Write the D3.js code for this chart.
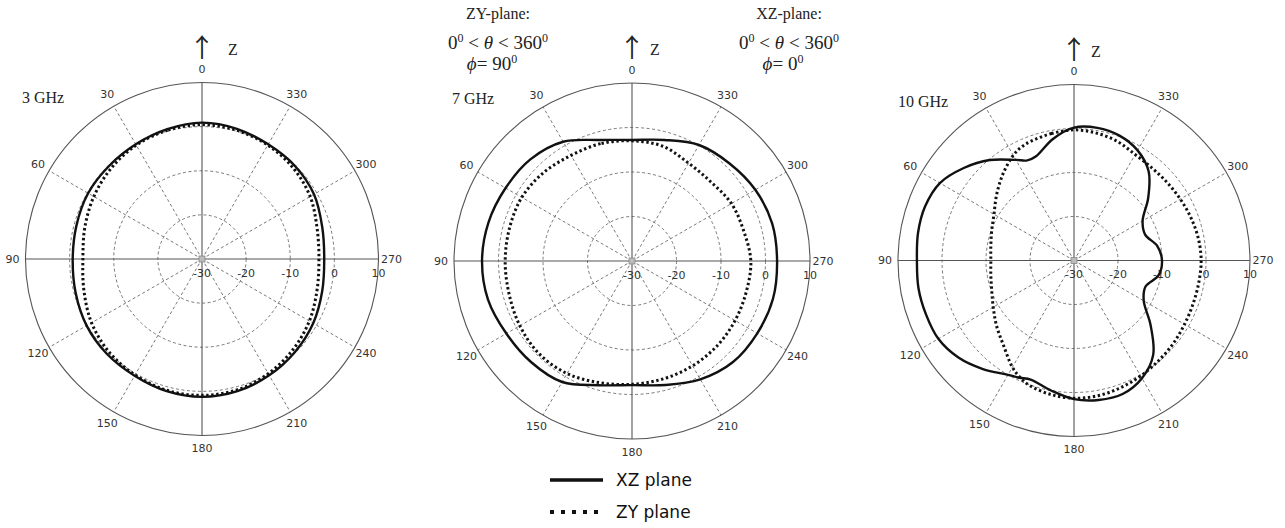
<!DOCTYPE html>
<html>
<head>
<meta charset="utf-8">
<script src="https://cdn.jsdelivr.net/npm/d3@7"></script>
<style>
  body { margin: 0; background: #fff; }
  svg { display: block; }
</style>
</head>
<body>
<svg id="chart" width="1285" height="528"></svg>
<script>
// Radiation patterns (dB) of the antenna in the XZ and ZY planes, 3 / 7 / 10 GHz.
// Angles are theta in degrees, 0 = +Z, increasing counter-clockwise.
const frequencies = ["3 GHz", "7 GHz", "10 GHz"];

const angleTicks = [0, 30, 60, 90, 120, 150, 180, 210, 240, 270, 300, 330];
const radialTicks = [-30, -20, -10, 0, 10];

const angles15 = [0, 15, 30, 45, 60, 75, 90, 105, 120, 135, 150, 165,
                  180, 195, 210, 225, 240, 255, 270, 285, 300, 315, 330, 345];

const angles10 = [0, 10, 20, 25, 30, 40, 50, 60, 70, 80, 90, 100, 110, 120, 130, 140,
                  150, 155, 160, 170, 180, 190, 200, 210, 220, 230, 240, 250, 260,
                  270, 280, 290, 300, 310, 320, 330, 340, 350];

// 3 GHz
const xz3GHz = [0.9, 0.45, 0.0, -0.2, -0.2, -0.55, -0.7, -0.35, 0.2, 0.45, 0.55, 1.0,
                1.25, 1.0, 0.45, -0.2, -0.9, -1.8, -2.3, -1.8, -0.7, -0.2, 0.0, 0.55];
const zy3GHz = [0.45, 0.2, -0.2, -0.9, -1.7, -2.5, -3.0, -2.3, -1.1, -0.2, 0.35, 0.8,
                0.9, 0.7, 0.0, -0.9, -1.9, -3.0, -3.5, -3.0, -1.7, -0.8, -0.2, 0.2];

// 7 GHz
const xz7GHz = [-2.8, -1.85, 0.95, 2.3, 2.8, 3.4, 3.7, 3.5, 2.6, 2.1, 1.4, -1.1,
                -2.1, -1.15, 0.7, 2.1, 2.5, 2.8, 2.6, 2.6, 2.0, 1.0, 0.1, -1.85];
const zy7GHz = [-3.0, -2.7, -2.6, -1.9, -1.4, -1.5, -1.5, -1.4, -0.9, -0.5, -0.8, -1.7,
                -2.3, -2.6, -2.8, -3.0, -3.25, -3.4, -3.3, -4.0, -4.2, -4.9, -4.6, -3.3];

// 10 GHz
const xz10GHz = [0.2, -2.0, -4.8, -4.9, -3.6, -0.2, 2.7, 5.2, 6.0, 6.0, 5.7, 5.9, 5.8, 5.6,
                 4.3, 2.2, 0.0, -0.6, -1.2, 0.0, 1.5, 2.2, 2.3, 0.9, -2.0, -7.3, -11.7,
                 -12.7, -10.5, -10.0, -10.8, -12.8, -12.0, -8.0, -3.6, -1.1, 0.2, 0.6];
const zy10GHz = [-0.3, -0.7, -1.2, -1.6, -2.4, -4.7, -7.0, -9.0, -10.1, -10.8, -11.1, -10.8,
                 -10.1, -8.8, -7.0, -5.0, -2.0, -0.8, 0.1, 0.9, 1.3, 1.2, 0.8, 0.3, -0.2,
                 -0.6, -1.0, -1.2, -1.2, -1.1, -1.3, -1.7, -2.1, -2.4, -2.5, -2.2, -1.2, -0.6];

const legendLabels = ["XZ plane", "ZY plane"];

const panels = [
  { label: frequencies[0], angles: angles15, xz: xz3GHz, zy: zy3GHz },
  { label: frequencies[1], angles: angles15, xz: xz7GHz, zy: zy7GHz },
  { label: frequencies[2], angles: angles10, xz: xz10GHz, zy: zy10GHz }
];

// Panel geometry: centre, outer radius, title offset, Z-label offset
const layout = [
  { cx: 202,  cy: 259,   R: 176.5, tx: -180, ty: -156, zx: 31 },
  { cx: 632,  cy: 261,   R: 178,   tx: -180, ty: -157, zx: 23 },
  { cx: 1074, cy: 260.5, R: 176,   tx: -176, ty: -154, zx: 22 }
];

const svg = d3.select("#chart");
svg.append("rect").attr("width", 1285).attr("height", 528).attr("fill", "#fff");

const rad = a => a * Math.PI / 180;
const polar = (a, r) => [-r * Math.sin(rad(a)), -r * Math.cos(rad(a))];

const gridColor = "#6a6a6a";
const labelColor = "#333";
const tickFont = "'DejaVu Sans', Verdana, sans-serif";
const serifFont = "'Liberation Serif', 'Times New Roman', serif";
const arrowFont = "'Noto Sans CJK JP', 'Noto Sans CJK SC', sans-serif";

panels.forEach((p, i) => {
  const L = layout[i];
  const g = svg.append("g").attr("transform", `translate(${L.cx},${L.cy})`);
  const r = d3.scaleLinear().domain([radialTicks[0], radialTicks[radialTicks.length - 1]]).range([0, L.R]);

  // dashed dB rings
  g.selectAll("circle.ring")
    .data(radialTicks.filter(v => v > radialTicks[0] && v < radialTicks[radialTicks.length - 1]))
    .join("circle")
    .attr("class", "ring")
    .attr("r", d => r(d))
    .attr("fill", "none")
    .attr("stroke", gridColor)
    .attr("stroke-width", 0.9)
    .attr("stroke-dasharray", "3,2.5");

  // spokes: dashed every 30 degrees, solid on the main axes
  g.selectAll("line.spoke")
    .data(angleTicks)
    .join("line")
    .attr("class", "spoke")
    .attr("x1", 0).attr("y1", 0)
    .attr("x2", d => polar(d, L.R)[0])
    .attr("y2", d => polar(d, L.R)[1])
    .attr("stroke", d => d % 90 === 0 ? "#555" : gridColor)
    .attr("stroke-width", d => d % 90 === 0 ? 1.1 : 0.9)
    .attr("stroke-dasharray", d => d % 90 === 0 ? null : "3,2.5");

  // outer circle
  g.append("circle")
    .attr("r", L.R)
    .attr("fill", "none")
    .attr("stroke", "#555")
    .attr("stroke-width", 1.1);

  // centre marker
  g.append("rect")
    .attr("x", -3).attr("y", -3).attr("width", 6).attr("height", 6)
    .attr("fill", "#bbb").attr("stroke", "#888").attr("stroke-width", 0.8);

  // angle labels
  g.selectAll("text.ang")
    .data(angleTicks)
    .join("text")
    .attr("class", "ang")
    .attr("x", d => polar(d, L.R + 13)[0])
    .attr("y", d => polar(d, L.R + 13)[1])
    .attr("text-anchor", "middle")
    .attr("dominant-baseline", "central")
    .attr("font-family", tickFont)
    .attr("font-size", 11)
    .attr("fill", labelColor)
    .text(d => d);

  // dB labels along the 270 axis
  g.selectAll("text.db")
    .data(radialTicks)
    .join("text")
    .attr("class", "db")
    .attr("x", d => r(d))
    .attr("y", 14)
    .attr("text-anchor", "middle")
    .attr("dominant-baseline", "central")
    .attr("font-family", tickFont)
    .attr("font-size", 11)
    .attr("fill", labelColor)
    .text(d => d);

  // pattern curves
  const line = d3.lineRadial()
    .angle(d => -rad(d[0]))
    .radius(d => r(d[1]))
    .curve(d3.curveCatmullRomClosed.alpha(0.5));

  const zyPts = p.angles.map((a, k) => [a, p.zy[k]]);
  const xzPts = p.angles.map((a, k) => [a, p.xz[k]]);

  g.append("path")
    .attr("d", line(zyPts))
    .attr("fill", "none")
    .attr("stroke", "#111")
    .attr("stroke-width", 3)
    .attr("stroke-dasharray", "2.4,2.6");

  g.append("path")
    .attr("d", line(xzPts))
    .attr("fill", "none")
    .attr("stroke", "#111")
    .attr("stroke-width", 2.4);

  // frequency label
  g.append("text")
    .attr("x", L.tx).attr("y", L.ty)
    .attr("font-family", serifFont)
    .attr("font-size", 16)
    .attr("fill", "#222")
    .text(p.label);

  // Z direction marker
  g.append("text")
    .attr("x", 0).attr("y", -L.R - 26)
    .attr("text-anchor", "middle")
    .attr("font-family", arrowFont)
    .attr("font-size", 26)
    .attr("fill", "#222")
    .text("↑");
  g.append("text")
    .attr("x", L.zx).attr("y", -L.R - 28)
    .attr("text-anchor", "middle")
    .attr("font-family", serifFont)
    .attr("font-size", 16)
    .attr("fill", "#222")
    .text("Z");
});

// plane definitions above the middle panel
function planeNote(x, title, phiVal) {
  const g = svg.append("g").attr("font-family", serifFont).attr("fill", "#222");
  g.append("text").attr("x", x).attr("y", 19).attr("text-anchor", "middle")
    .attr("font-size", 16).text(title);

  const t = g.append("text").attr("x", x).attr("y", 49).attr("text-anchor", "middle")
    .attr("font-size", 19);
  t.append("tspan").text("0");
  t.append("tspan").attr("dy", -7).attr("font-size", 12).text("0");
  t.append("tspan").attr("dy", 7).text("  <  ");
  t.append("tspan").attr("font-style", "italic").text("θ");
  t.append("tspan").text("  <  360");
  t.append("tspan").attr("dy", -7).attr("font-size", 12).text("0");

  const f = g.append("text").attr("x", x - 6).attr("y", 70).attr("text-anchor", "middle")
    .attr("font-size", 19);
  f.append("tspan").attr("font-style", "italic").text("ϕ");
  f.append("tspan").text("= " + phiVal);
  f.append("tspan").attr("dy", -7).attr("font-size", 12).text("0");
}
planeNote(498, "ZY-plane:", "90");
planeNote(789, "XZ-plane:", "0");

// legend
const lg = svg.append("g");
lg.append("line").attr("x1", 550).attr("x2", 603).attr("y1", 480).attr("y2", 480)
  .attr("stroke", "#111").attr("stroke-width", 3.5);
lg.append("line").attr("x1", 550).attr("x2", 603).attr("y1", 512).attr("y2", 512)
  .attr("stroke", "#111").attr("stroke-width", 4).attr("stroke-dasharray", "4,7");
legendLabels.forEach((t, k) => {
  lg.append("text").attr("x", 616).attr("y", 480 + k * 32)
    .attr("dominant-baseline", "central")
    .attr("font-family", tickFont).attr("font-size", 17).attr("fill", "#111")
    .text(t);
});
</script>
</body>
</html>
